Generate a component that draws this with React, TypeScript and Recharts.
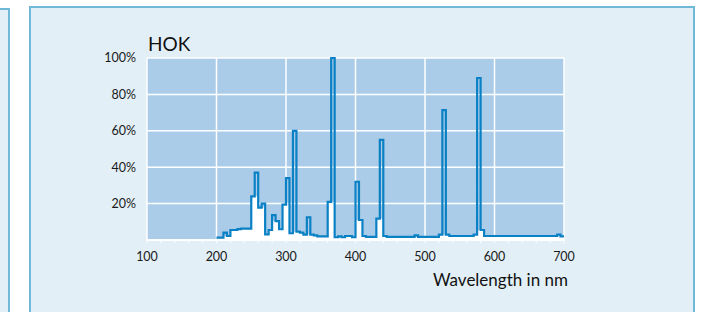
import React from "react";
import {
  ComposedChart,
  Area,
  Line,
  XAxis,
  YAxis,
  CartesianGrid,
} from "recharts";

// spectrum: each value holds from its start (nm) to the next one
const stepStart = [
  200, 210, 215, 220, 230, 235, 250, 255, 260, 265, 270, 275, 280, 285, 290,
  295, 300, 305, 310, 315, 320, 325, 330, 335, 340, 345, 360, 365, 370, 375,
  380, 385, 395, 400, 405, 410, 415, 430, 435, 440, 445, 485, 490, 520, 525,
  530, 535, 570, 575, 580, 585, 690, 695, 700,
];
const intensity = [
  1.3, 4, 2.2, 5.5, 6, 6.3, 24, 37, 17.8, 20, 3.1, 5.5, 13.7, 10.4, 5.9, 19.4,
  34, 3.7, 60, 4.6, 4, 3, 12.5, 3, 2.5, 2, 21, 100, 1.5, 2, 1.5, 2.2, 1.5, 32,
  11, 2.2, 1.7, 11.7, 55, 2.2, 1.7, 2.5, 1.7, 3, 71.4, 3, 2.2, 3, 89, 5.5, 2.2,
  3, 2, 2,
];
// white fill under the outline (does not reach into the narrow line peaks)
const continuum = [
  1.3, 2.2, 2.2, 5.5, 6, 6.3, 24, 24, 17.8, 17.8, 3.1, 5.5, 10.4, 10.4, 5.9,
  19.4, 19.4, 3.7, 4.6, 4.6, 4, 3, 3, 3, 2.5, 2, 21, 21, 1.5, 1.5, 1.5, 2.2,
  1.5, 11, 11, 2.2, 1.7, 11.7, 11.7, 2.2, 1.7, 1.7, 1.7, 3, 3, 3, 2.2, 3, 5.5,
  5.5, 2.2, 2, 2, 2,
];

const xTicks = [
  100, 120, 140, 160, 180, 200, 220, 240, 260, 280, 300, 320, 340, 360, 380,
  400, 420, 440, 460, 480, 500, 520, 540, 560, 580, 600, 620, 640, 660, 680,
  700,
];
const xGrid = [100, 200, 300, 400, 500, 600, 700];
const yTicks = [20, 40, 60, 80, 100];

const data = stepStart.map((nm, i) => ({
  nm,
  intensity: intensity[i],
  continuum: continuum[i],
}));

const FONT = "Lato, 'DejaVu Sans', sans-serif";
const BORDER = "#6fb8d7";
const PANEL = "#e2eff6";

export default function App() {
  return (
    <div
      style={{
        position: "absolute",
        left: 0,
        top: 0,
        width: 703,
        height: 312,
        overflow: "hidden",
        background: "#fff",
        fontFamily: FONT,
      }}
    >
      {/* edge of the neighbouring panel */}
      <div
        style={{
          position: "absolute",
          left: -30,
          top: 8,
          width: 36,
          height: 400,
          background: PANEL,
          border: `2px solid ${BORDER}`,
        }}
      />
      <div
        style={{
          position: "absolute",
          left: 29,
          top: 6,
          width: 662,
          height: 400,
          background: PANEL,
          border: `2px solid ${BORDER}`,
        }}
      />
      <div
        style={{
          position: "absolute",
          left: 148,
          top: 34,
          fontSize: 19,
          lineHeight: "20px",
          color: "#111",
        }}
      >
        HOK
      </div>
      <div
        style={{
          position: "absolute",
          right: 703 - 568,
          top: 270,
          fontSize: 17,
          lineHeight: "20px",
          color: "#111",
        }}
      >
        Wavelength in nm
      </div>
      <div style={{ position: "absolute", left: 0, top: 0 }}>
        <ComposedChart
          width={703}
          height={312}
          data={data}
          margin={{ top: 58, right: 139, bottom: 42, left: 107 }}
        >
          <CartesianGrid
            fill="#aacce8"
            fillOpacity={1}
            stroke="#fff"
            strokeWidth={1.5}
            strokeOpacity={1}
            verticalValues={xGrid}
          />
          <XAxis
            dataKey="nm"
            type="number"
            domain={[100, 700]}
            ticks={xTicks}
            interval={0}
            height={30}
            tickFormatter={(v: number) => (v % 100 === 0 ? String(v) : "")}
            axisLine={{ stroke: "#fff", strokeWidth: 1.5 }}
            tickLine={{ stroke: "#fff", strokeWidth: 1 }}
            tickSize={3}
            tickMargin={9}
            tick={{ fill: "#1a1a1a", fontSize: 12.5, fontFamily: FONT }}
          />
          <YAxis
            type="number"
            domain={[0, 100]}
            ticks={yTicks}
            interval={0}
            width={40}
            axisLine={false}
            tickLine={false}
            tickMargin={5}
            tickFormatter={(v: number) => `${v}%`}
            tick={{ fill: "#1a1a1a", fontSize: 12.5, fontFamily: FONT }}
          />
          <Area
            type="stepAfter"
            dataKey="continuum"
            fill="#fff"
            fillOpacity={1}
            stroke="none"
            isAnimationActive={false}
          />
          <Line
            type="stepAfter"
            dataKey="intensity"
            stroke="#0a80c5"
            strokeWidth={2.2}
            strokeLinejoin="miter"
            dot={false}
            activeDot={false}
            isAnimationActive={false}
          />
        </ComposedChart>
      </div>
    </div>
  );
}
